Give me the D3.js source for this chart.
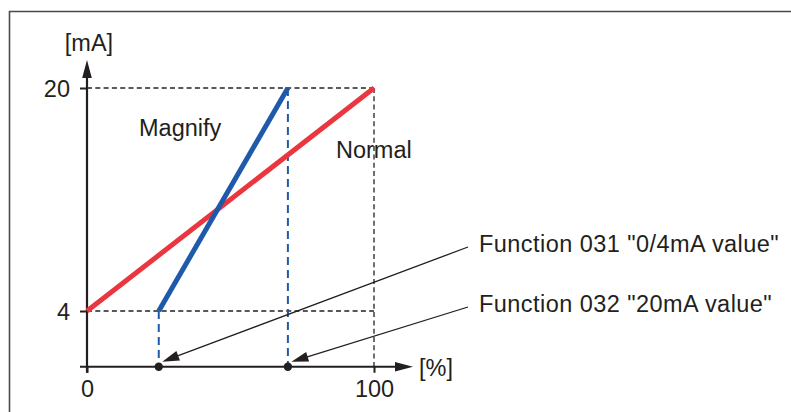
<!DOCTYPE html>
<html>
<head>
<meta charset="utf-8">
<script src="https://cdn.jsdelivr.net/npm/d3@7"></script>
<style>
  html, body { margin: 0; padding: 0; background: #fff; }
  svg { display: block; font-family: "Liberation Sans", Arial, Helvetica, sans-serif; }
</style>
</head>
<body>
<svg id="chart" width="791" height="412"></svg>
<script>
// Output characteristic: input percentage vs. current output
const xTicks = [0, 100];
const yTicks = [4, 20];
const xUnit = "[%]";
const yUnit = "[mA]";

// Normal: 0..100 % mapped to 4..20 mA
const normalX = [0, 100];
const normalY = [4, 20];
// Magnify: 25..70 % mapped to 4..20 mA
const magnifyX = [25, 70];
const magnifyY = [4, 20];

const seriesNames = ["Magnify", "Normal"];
const annotationTexts = ['Function 031 "0/4mA value"', 'Function 032 "20mA value"'];
const annotationTargets = [25, 70];

const svg = d3.select("#chart");
const ink = "#231f20";
const red = "#e9363f";
const blue = "#1e5aa9";

// frame
svg.append("path")
  .attr("d", "M9.5,420 L9.5,11.5 L800,11.5")
  .attr("fill", "none").attr("stroke", "#4a4a4a").attr("stroke-width", 1.6);

const x = d3.scaleLinear().domain([0, 100]).range([87, 374]);
const y = d3.scaleLinear().domain([4, 20]).range([311, 88]);

const x0 = x(0), y0 = y(0);

// dashed guide lines (black)
const guides = svg.append("g")
  .attr("stroke", "#222").attr("stroke-width", 1.3)
  .attr("stroke-dasharray", "5,3.3").attr("fill", "none");
guides.append("line").attr("x1", x0).attr("x2", x(100)).attr("y1", y(20)).attr("y2", y(20));
guides.append("line").attr("x1", x0).attr("x2", x(100)).attr("y1", y(4)).attr("y2", y(4));
guides.append("line").attr("x1", x(100)).attr("x2", x(100)).attr("y1", y(20)).attr("y2", y0);

// dashed guide lines (blue) under the magnify endpoints
const bguides = svg.append("g")
  .attr("stroke", blue).attr("stroke-width", 2)
  .attr("stroke-dasharray", "8,5").attr("fill", "none");
bguides.append("line").attr("x1", x(magnifyX[0])).attr("x2", x(magnifyX[0]))
  .attr("y1", y(magnifyY[0])).attr("y2", y0);
bguides.append("line").attr("x1", x(magnifyX[1])).attr("x2", x(magnifyX[1]))
  .attr("y1", y(magnifyY[1])).attr("y2", y0);

// axes lines with arrowheads
svg.append("line").attr("x1", 80).attr("x2", 398).attr("y1", y0).attr("y2", y0)
  .attr("stroke", ink).attr("stroke-width", 2.2);
svg.append("path").attr("d", `M413,${y0} L395,${y0 - 4.8} L395,${y0 + 4.8} Z`).attr("fill", ink);
svg.append("line").attr("x1", x0).attr("x2", x0).attr("y1", y0 + 6).attr("y2", 74)
  .attr("stroke", ink).attr("stroke-width", 2.2);
svg.append("path").attr("d", `M${x0},60 L${x0 - 4.8},78 L${x0 + 4.8},78 Z`).attr("fill", ink);

// tick marks and labels
const fontSize = 23.5;
const xAxis = svg.append("g").attr("transform", `translate(0,${y0})`)
  .call(d3.axisBottom(x).tickValues(xTicks).tickSize(6).tickPadding(9).tickFormat(d3.format("d")));
const yAxis = svg.append("g").attr("transform", `translate(${x0},0)`)
  .call(d3.axisLeft(y).tickValues(yTicks).tickSize(7).tickPadding(10).tickFormat(d3.format("d")));
[xAxis, yAxis].forEach(g => {
  g.select(".domain").remove();
  g.selectAll("line").attr("stroke", ink).attr("stroke-width", 2);
  g.selectAll("text").attr("fill", ink).style("font-size", fontSize + "px")
    .style("font-family", '"Liberation Sans", Arial, sans-serif');
});
yAxis.selectAll("text").attr("dy", "0.38em");
xAxis.selectAll("text").attr("dy", "0.66em");

// unit labels
svg.append("text").attr("x", x0 + 2).attr("y", 51).attr("text-anchor", "middle")
  .attr("fill", ink).style("font-size", fontSize + "px").text(yUnit);
svg.append("text").attr("x", 419).attr("y", 376).attr("fill", ink)
  .style("font-size", fontSize + "px").text(xUnit);

// characteristic lines
const line = d3.line().x(d => x(d[0])).y(d => y(d[1]));
svg.append("path").datum(d3.zip(normalX, normalY)).attr("d", line)
  .attr("fill", "none").attr("stroke", red).attr("stroke-width", 5);
svg.append("path").datum(d3.zip(magnifyX, magnifyY)).attr("d", line)
  .attr("fill", "none").attr("stroke", blue).attr("stroke-width", 5);

// series labels
svg.append("text").attr("x", 139).attr("y", 136).attr("fill", ink)
  .style("font-size", fontSize + "px").text(seriesNames[0]);
svg.append("text").attr("x", 336).attr("y", 158).attr("fill", ink)
  .style("font-size", fontSize + "px").text(seriesNames[1]);

// endpoint dots on the x axis
svg.selectAll("circle.pt").data(annotationTargets).join("circle")
  .attr("class", "pt").attr("cx", d => x(d)).attr("cy", y0).attr("r", 4.2).attr("fill", ink);

// annotations with arrows pointing at the dots
const annBaselines = [252, 312];
const annTextX = 479;
annotationTexts.forEach((t, i) => {
  const sx = annTextX - 11, sy = annBaselines[i] - 5;
  const tx = x(annotationTargets[i]) + 3.5, ty = y0 - 5;
  const dx = tx - sx, dy = ty - sy, len = Math.hypot(dx, dy);
  const ux = dx / len, uy = dy / len;
  const headLen = 17, headW = 5;
  const bx = tx - ux * headLen, by = ty - uy * headLen;
  svg.append("line").attr("x1", sx).attr("y1", sy).attr("x2", bx + ux * 2).attr("y2", by + uy * 2)
    .attr("stroke", ink).attr("stroke-width", 1.3);
  svg.append("path")
    .attr("d", `M${tx},${ty} L${bx - uy * headW},${by + ux * headW} L${bx + uy * headW},${by - ux * headW} Z`)
    .attr("fill", ink);
  svg.append("text").attr("x", annTextX).attr("y", annBaselines[i]).attr("fill", ink)
    .style("font-size", fontSize + "px").style("letter-spacing", "0.45px").text(t);
});
</script>
</body>
</html>
